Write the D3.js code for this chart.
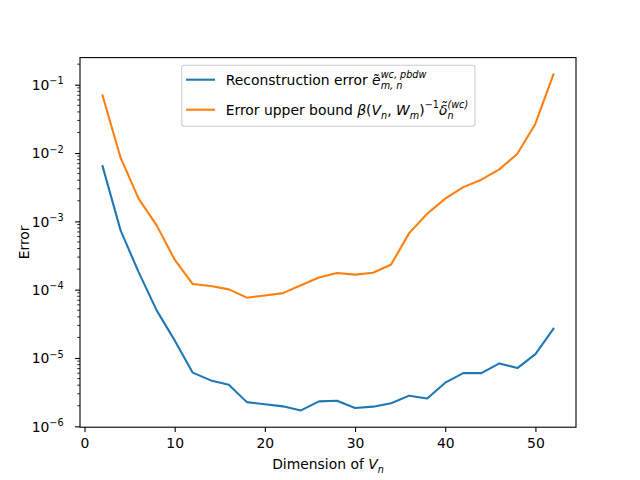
<!DOCTYPE html>
<html>
<head>
<meta charset="utf-8">
<script src="https://cdn.jsdelivr.net/npm/d3@7"></script>
<style>
  body { margin: 0; background: #fff; }
  svg { font-family: 'DejaVu Sans', sans-serif; }
  text { white-space: pre; }
</style>
</head>
<body>
<svg id="chart" width="640" height="480"></svg>
<script>
// dimension of V_n, one point every 2
const dims = [2, 4, 6, 8, 10, 12, 14, 16, 18, 20, 22, 24, 26,
  28, 30, 32, 34, 36, 38, 40, 42, 44, 46, 48, 50, 52];

const recon_error = [6.44e-3, 7.38e-4, 1.81e-4, 4.98e-5, 1.81e-5, 6.10e-6, 4.70e-6,
  4.07e-6, 2.26e-6, 2.10e-6, 1.96e-6, 1.71e-6, 2.32e-6, 2.37e-6, 1.85e-6, 1.94e-6,
  2.17e-6, 2.81e-6, 2.56e-6, 4.35e-6, 6.01e-6, 6.0e-6, 8.34e-6, 7.12e-6, 1.14e-5, 2.69e-5];

const upper_bound = [6.97e-2, 8.55e-3, 2.15e-3, 8.73e-4, 2.75e-4, 1.21e-4, 1.13e-4,
  1.01e-4, 7.64e-5, 8.24e-5, 8.91e-5, 1.16e-4, 1.51e-4, 1.75e-4, 1.66e-4, 1.77e-4,
  2.34e-4, 6.73e-4, 1.29e-3, 2.15e-3, 3.17e-3, 4.07e-3, 5.76e-3, 9.77e-3, 2.69e-2, 1.416e-1];

const x_ticks = [0, 10, 20, 30, 40, 50];
const y_ticks = [1e-6, 1e-5, 1e-4, 1e-3, 1e-2, 1e-1];
const y_tick_exps = ['\u22126', '\u22125', '\u22124', '\u22123', '\u22122', '\u22121'];

const x_label = 'Dimension of ';
const y_label = 'Error';

const series = [
  { values: recon_error, color: '#1f77b4' },
  { values: upper_bound, color: '#ff7f0e' },
];

const FS = 13.9;
const FS_SMALL = 9.7;

const ax_left = 80, ax_right = 576, ax_top = 57.6, ax_bottom = 427.2;

const svg = d3.select('#chart');

// matplotlib style 5% margins (log space for y)
const x_ext = d3.extent(dims);
const x_pad = (x_ext[1] - x_ext[0]) * 0.05;
const x = d3.scaleLinear()
  .domain([x_ext[0] - x_pad, x_ext[1] + x_pad])
  .range([ax_left, ax_right]);

const all_vals = recon_error.concat(upper_bound);
const lo = Math.log10(d3.min(all_vals));
const hi = Math.log10(d3.max(all_vals));
const y_pad = (hi - lo) * 0.05;
const y = d3.scaleLog()
  .domain([10 ** (lo - y_pad), 10 ** (hi + y_pad)])
  .range([ax_bottom, ax_top]);

// lays out a run of text pieces with super/subscripts
const set_math = function (g, x0, y0, pieces) {
  let cursor = x0;
  let prev_start = x0;
  let prev_end = x0;
  pieces.forEach(p => {
    const start = p.stack ? prev_start : cursor;
    const t = g.append('text')
      .attr('x', start)
      .attr('y', y0 + (p.dy || 0))
      .style('font-size', (p.small ? FS_SMALL : FS) + 'px')
      .style('font-style', p.it ? 'italic' : 'normal')
      .attr('fill', '#000')
      .text(p.t);
    const end = start + t.node().getComputedTextLength();
    cursor = p.stack ? Math.max(prev_end, end) : end;
    prev_start = start;
    prev_end = end;
  });
  return cursor - x0;
};

// minor log ticks
const minor = [];
for (let k = -7; k <= 0; k++) {
  for (let m = 2; m <= 9; m++) {
    const v = m * 10 ** k;
    if (v >= y.domain()[0] && v <= y.domain()[1]) minor.push(v);
  }
}
svg.append('g')
  .selectAll('line')
  .data(minor)
  .join('line')
  .attr('x1', ax_left)
  .attr('x2', ax_left - 2.8)
  .attr('y1', d => y(d))
  .attr('y2', d => y(d))
  .attr('stroke', '#000')
  .attr('stroke-width', 0.8);

// x axis
const x_axis = svg.append('g')
  .attr('transform', `translate(0,${ax_bottom})`)
  .call(d3.axisBottom(x).tickValues(x_ticks).tickSize(4.9).tickPadding(4.9).tickFormat(d3.format('d')));
x_axis.select('.domain').remove();
x_axis.selectAll('line').attr('stroke-width', 1.1);
x_axis.selectAll('text')
  .attr('dy', '0.78em')
  .style('font-size', FS + 'px')
  .style('font-family', "'DejaVu Sans', sans-serif");

// y axis
const y_axis = svg.append('g')
  .attr('transform', `translate(${ax_left},0)`)
  .call(d3.axisLeft(y).tickValues(y_ticks).tickSize(4.9).tickPadding(11.5).tickFormat(() => ''));
y_axis.select('.domain').remove();
y_axis.selectAll('line').attr('stroke-width', 1.1);
y_axis.selectAll('text')
  .attr('dy', '0.34em')
  .style('font-size', FS + 'px')
  .style('font-family', "'DejaVu Sans', sans-serif")
  .each(function (d, i) {
    const t = d3.select(this);
    t.append('tspan').text('10');
    t.append('tspan')
      .attr('dy', -5.5)
      .style('font-size', FS_SMALL + 'px')
      .text(y_tick_exps[i]);
  });

// lines
const line = d3.line()
  .x(d => x(d[0]))
  .y(d => y(d[1]));

svg.append('g')
  .selectAll('path')
  .data(series)
  .join('path')
  .attr('d', s => line(dims.map((n, i) => [n, s.values[i]])))
  .attr('fill', 'none')
  .attr('stroke', s => s.color)
  .attr('stroke-width', 2.08)
  .attr('stroke-linejoin', 'round')
  .attr('stroke-linecap', 'square');

// spines
svg.append('rect')
  .attr('x', ax_left)
  .attr('y', ax_top)
  .attr('width', ax_right - ax_left)
  .attr('height', ax_bottom - ax_top)
  .attr('fill', 'none')
  .attr('stroke', '#000')
  .attr('stroke-width', 1.1);

// axis labels
const xl = svg.append('g');
const xl_w = set_math(xl, 0, 469, [
  { t: x_label },
  { t: 'V', it: true },
  { t: 'n', it: true, small: true, dy: 3.5 },
]);
xl.attr('transform', `translate(${(ax_left + ax_right) / 2 - xl_w / 2},0)`);

svg.append('text')
  .attr('transform', `translate(29,${(ax_top + ax_bottom) / 2}) rotate(-90)`)
  .attr('text-anchor', 'middle')
  .style('font-size', FS + 'px')
  .text(y_label);

// legend
const legend = svg.append('g');
legend.append('rect')
  .attr('x', 181.7)
  .attr('y', 65.3)
  .attr('width', 293.3)
  .attr('height', 61)
  .attr('rx', 2.8)
  .attr('fill', 'rgba(255,255,255,0.8)')
  .attr('stroke', '#cccccc')
  .attr('stroke-width', 1.1);

const legend_rows = [
  [
    { t: 'Reconstruction error ' },
    { t: '\u1EBD', it: true },
    { t: 'wc, pbdw', it: true, small: true, dy: -7 },
    { t: 'm, n', it: true, small: true, dy: 4, stack: true },
  ],
  [
    { t: 'Error upper bound ' },
    { t: '\u03B2', it: true },
    { t: '(' },
    { t: 'V', it: true },
    { t: 'n', it: true, small: true, dy: 4 },
    { t: ', ' },
    { t: 'W', it: true },
    { t: 'm', it: true, small: true, dy: 4 },
    { t: ')' },
    { t: '\u22121', small: true, dy: -7 },
    { t: '\u03B4\u0303', it: true },
    { t: '(wc)', small: true, it: true, dy: -7 },
    { t: 'n', it: true, small: true, dy: 4, stack: true },
  ],
];

series.forEach((s, i) => {
  const ly = 79.7 + i * 30;
  legend.append('line')
    .attr('x1', 186)
    .attr('x2', 215)
    .attr('y1', ly)
    .attr('y2', ly)
    .attr('stroke', s.color)
    .attr('stroke-width', 2.08);
  set_math(legend, 225.7, ly + 5, legend_rows[i]);
});
</script>
</body>
</html>
